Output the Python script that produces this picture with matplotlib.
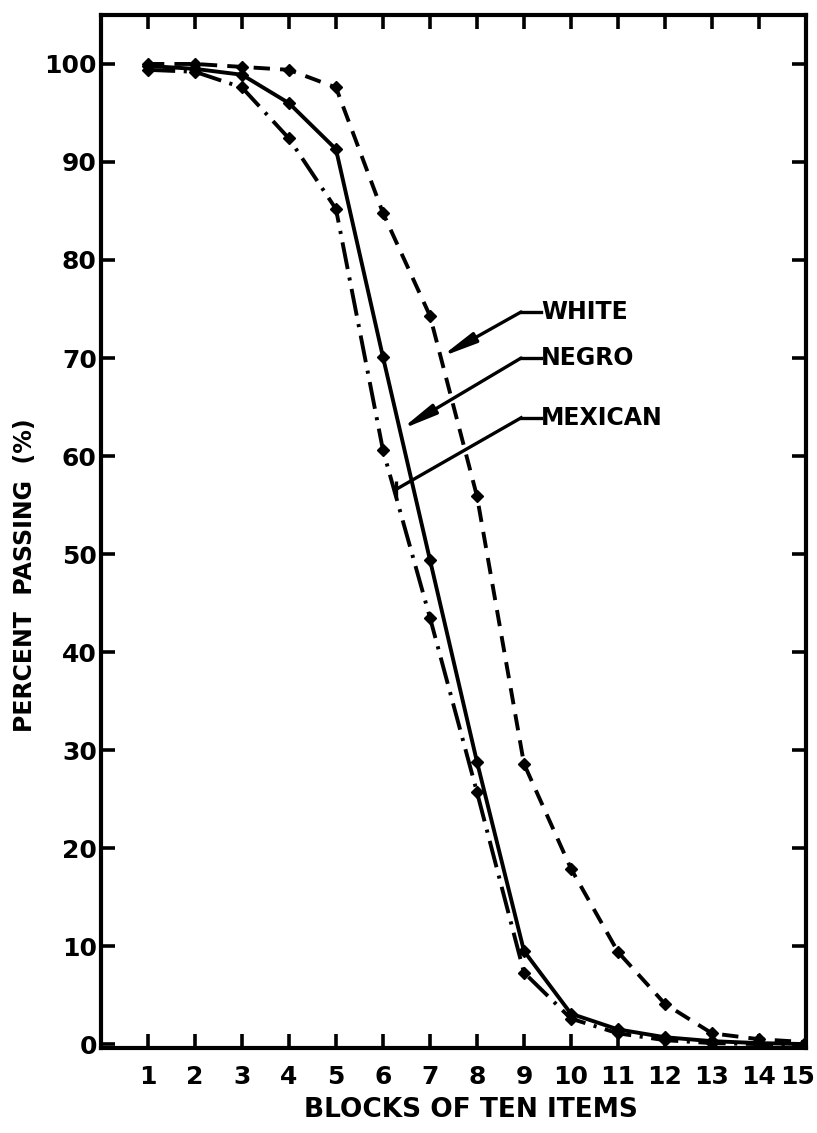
import numpy as np
import matplotlib.pyplot as plt
from matplotlib.transforms import ScaledTranslation

# blocks of ten items
blocks = list(range(1, 16))

# percent passing
white = [100.0, 100.0, 99.7, 99.4, 97.6, 84.8, 74.3, 55.9, 28.6, 17.9, 9.4, 4.1, 1.1, 0.5, 0.2]
negro = [99.8, 99.5, 98.9, 96.0, 91.3, 70.1, 49.4, 28.8, 9.5, 3.1, 1.5, 0.7, 0.3, 0.1, 0.0]
mexican = [99.4, 99.2, 97.6, 92.4, 85.2, 60.6, 43.5, 25.7, 7.3, 2.6, 1.1, 0.4, 0.1, 0.0, 0.0]

plt.rcParams["font.family"] = ["DejaVu Sans"]
plt.rcParams["font.weight"] = "bold"

fig = plt.figure(figsize=(8.17, 11.33), dpi=100)
ax = fig.add_axes([0.1236, 0.075, 0.8629, 0.9118])

lw = 2.8
ax.plot(blocks, white, color="black", lw=lw, ls=(0, (4.2, 2.6)),
        marker="D", ms=6, label="WHITE")
ax.plot(blocks, negro, color="black", lw=lw, ls="-",
        marker="D", ms=6, label="NEGRO")
ax.plot(blocks, mexican, color="black", lw=lw, ls=(0, (7, 2.2, 0.8, 2.2)),
        marker="D", ms=6, label="MEXICAN")

# leader lines to the labels
leaders = [("WHITE", (7.23, 70.1), (8.94, 74.7), True),
           ("NEGRO", (6.38, 62.7), (8.94, 70.0), True),
           ("MEXICAN", (6.28, 56.6), (8.94, 63.9), False)]
for name, tip, elbow, arrow in leaders:
    ax.plot([elbow[0], elbow[0] + 0.42], [elbow[1], elbow[1]], color="black", lw=2.4)
    if arrow:
        ax.annotate("", xy=tip, xytext=elbow,
                    arrowprops=dict(arrowstyle="-|>,head_length=1.3,head_width=0.2",
                                    color="black", lw=2.4,
                                    mutation_scale=16, shrinkA=0, shrinkB=0))
    else:
        ax.plot([tip[0], elbow[0]], [tip[1], elbow[1]], color="black", lw=2.4)
        ax.plot([tip[0]], [tip[1]], marker="|", ms=12, mew=2.4, color="black")
    ax.text(elbow[0] + 0.42, elbow[1], name, fontsize=17, fontweight="bold",
            va="center", ha="left")

ax.set_xlim(0, 15)
ax.set_ylim(-0.4, 105.0)
ax.set_xticks(blocks)
ax.set_yticks(range(0, 101, 10))
ax.tick_params(direction="in", length=10, width=2.6, top=True, right=True,
               labelsize=18)
ax.tick_params(axis="x", pad=12)
ax.tick_params(axis="y", pad=3)
for s in ax.spines.values():
    s.set_linewidth(3)

# keep the last x label inside the figure
fig.canvas.draw()
last = ax.get_xticklabels()[-1]
last.set_transform(last.get_transform() + ScaledTranslation(-8 / 100, 0, fig.dpi_scale_trans))

fig.text(471 / 817, 1 - 1110 / 1133, "BLOCKS OF TEN ITEMS",
         fontsize=19, fontweight="bold", ha="center", va="center")
fig.text(25 / 817, 1 - 575 / 1133, "PERCENT  PASSING  (%)",
         fontsize=17, fontweight="bold", ha="center", va="center", rotation=90)

fig.savefig("out.png", dpi=100)
